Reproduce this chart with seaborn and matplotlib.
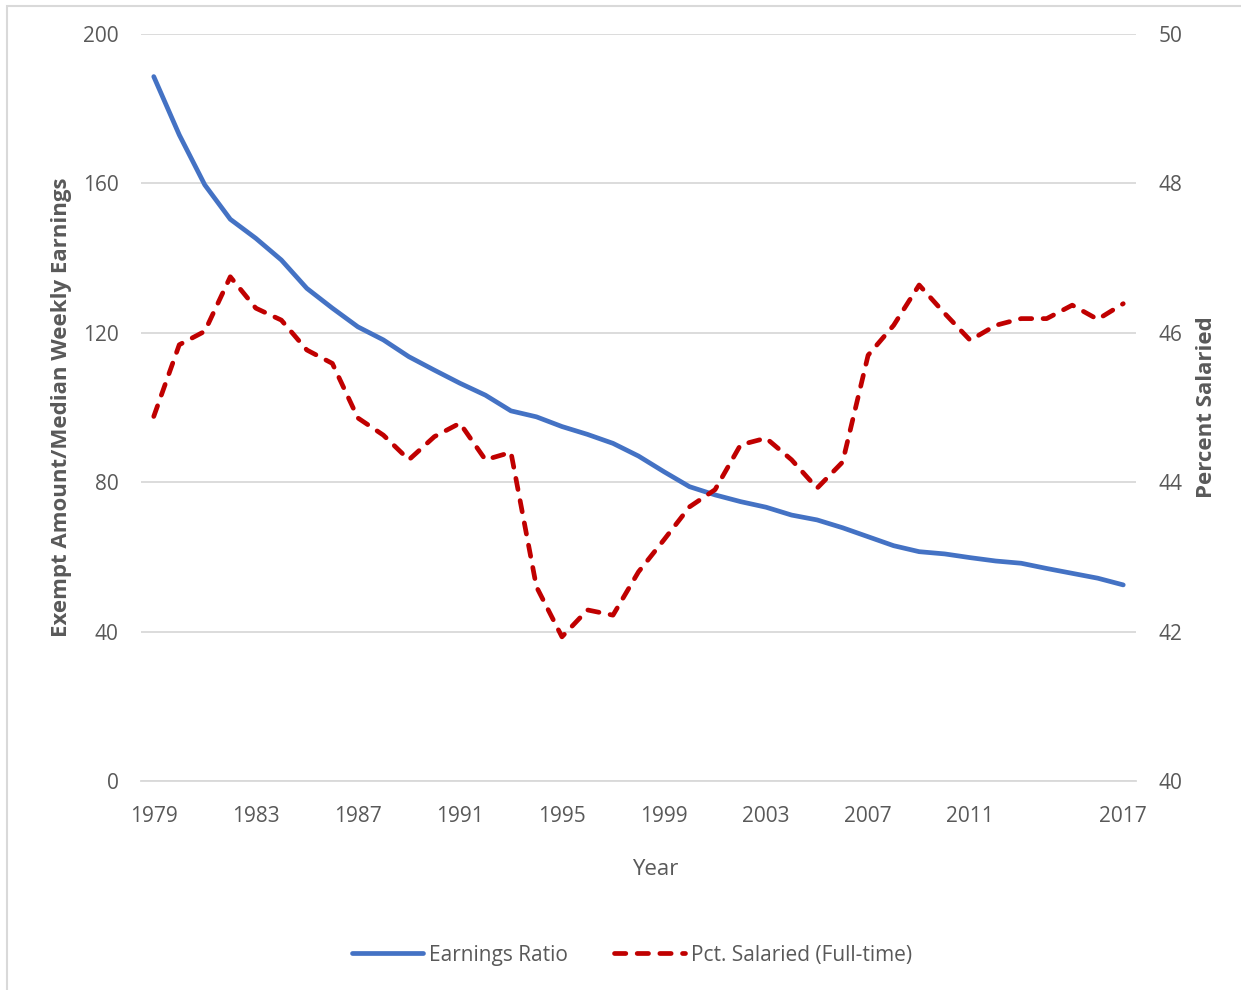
import numpy as np
import matplotlib
matplotlib.use("Agg")
import matplotlib.pyplot as plt
import seaborn as sns
import pandas as pd
from matplotlib.patches import Rectangle

years = list(range(1979, 2018))
earnings_ratio = [188.6, 173.0, 159.6, 150.4, 145.3, 139.5, 131.9, 126.6, 121.6, 118.1,
                  113.6, 110.0, 106.5, 103.3, 99.1, 97.5, 94.9, 92.8, 90.4, 87.0,
                  82.8, 78.8, 76.6, 74.8, 73.3, 71.2, 69.9, 67.8, 65.4, 63.0,
                  61.4, 60.8, 59.8, 58.9, 58.3, 56.9, 55.6, 54.3, 52.5]
pct_salaried = [44.88, 45.84, 46.02, 46.75, 46.33, 46.17, 45.77, 45.59, 44.86, 44.63,
                44.30, 44.61, 44.79, 44.30, 44.40, 42.60, 41.93, 42.29, 42.22, 42.80,
                43.23, 43.67, 43.90, 44.50, 44.59, 44.30, 43.92, 44.27, 45.70, 46.10,
                46.64, 46.26, 45.90, 46.10, 46.19, 46.19, 46.37, 46.18, 46.39]
xtick_years = [1979, 1983, 1987, 1991, 1995, 1999, 2003, 2007, 2011, 2017]

df = pd.DataFrame({"Year": years, "Earnings Ratio": earnings_ratio,
                   "Pct. Salaried (Full-time)": pct_salaried})

sns.set_style("white")
plt.rcParams['font.family'] = ['Open Sans', 'DejaVu Sans']
grey = "#595959"
blue = "#4472C4"
red = "#C00000"

fig = plt.figure(figsize=(12.41, 9.9), dpi=100)
ax = fig.add_axes([141 / 1241, 1 - 781 / 990, (1136 - 141) / 1241, (781 - 34) / 990])
ax2 = ax.twinx()

sns.lineplot(data=df, x="Year", y="Earnings Ratio", ax=ax, color=blue,
             linewidth=3.4, label="Earnings Ratio", legend=False)
sns.lineplot(data=df, x="Year", y="Pct. Salaried (Full-time)", ax=ax2, color=red,
             linewidth=3.4, label="Pct. Salaried (Full-time)", legend=False)
l2 = ax2.get_lines()[0]
l2.set_dashes((2.4, 2.4))
l2.set_dash_capstyle("round")
ax.get_lines()[0].set_solid_capstyle("round")

ax.set_xlim(1978.5, 2017.5)
ax.set_ylim(0, 200)
ax2.set_ylim(40, 50)
ax.set_yticks(range(0, 201, 40))
ax2.set_yticks(range(40, 51, 2))
ax.set_xticks(xtick_years)
ax.set_xticklabels([str(y) for y in xtick_years])

ax.grid(axis="y", color="#D9D9D9", linewidth=1.3)
ax.set_axisbelow(True)
for a in (ax, ax2):
    for s in a.spines.values():
        s.set_visible(False)
    a.tick_params(length=0, labelsize=15, labelcolor=grey)
ax.spines["bottom"].set_visible(True)
ax.spines["bottom"].set_color("#D9D9D9")
ax.spines["bottom"].set_linewidth(1.3)
ax.tick_params(axis="y", pad=16)
ax2.tick_params(axis="y", pad=16)
ax.tick_params(axis="x", pad=18)

ax.set_xlabel("Year", fontsize=16, color=grey)
ax.xaxis.set_label_coords((655 - 141) / 995, -(859 - 781) / 747)
ax.set_ylabel("Exempt Amount/Median Weekly Earnings", fontsize=16,
              color=grey, fontweight="bold", labelpad=8)
ax2.set_ylabel("Percent Salaried", fontsize=16, color=grey,
               fontweight="bold", labelpad=10)

h1, lb1 = ax.get_legend_handles_labels()
h2, lb2 = ax2.get_legend_handles_labels()
fig.legend(h1 + h2, lb1 + lb2, loc="center", bbox_to_anchor=(632 / 1241, 1 - 955 / 990),
           ncol=2, frameon=False, fontsize=15, labelcolor=grey,
           handlelength=3.4, columnspacing=2.2, handletextpad=0.3)

fig.patches.append(Rectangle((7 / 1241, -0.05), 1.2, 1.05 - 6 / 990,
                             transform=fig.transFigure, fill=False,
                             edgecolor="#D9D9D9", linewidth=1.5))

fig.savefig("out.png", dpi=100, facecolor="white")
